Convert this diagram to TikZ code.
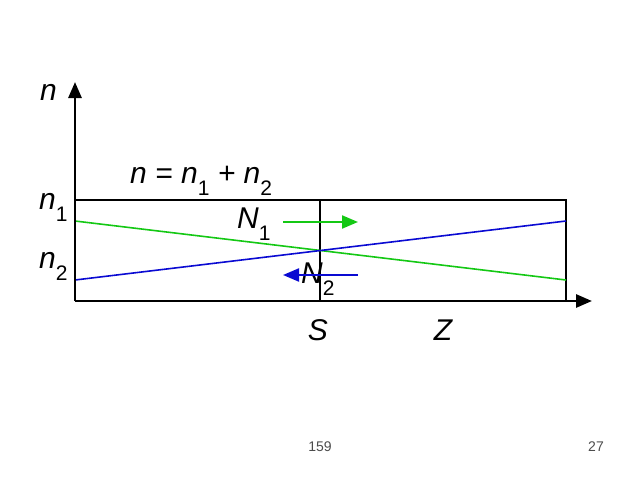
\documentclass[tikz,border=0pt]{standalone}
\usepackage{fontspec}
\setmainfont{Liberation Sans}
\usetikzlibrary{arrows.meta, positioning}
\definecolor{flowgreen}{RGB}{20,200,20}
\definecolor{flowblue}{RGB}{10,10,210}
\newcommand{\lowidx}[1]{\raisebox{-12pt}{\fontsize{21}{21}\selectfont\upshape #1}}

\begin{document}
\begin{tikzpicture}[x=1pt, y=-1pt,
        t/.style={font=\fontsize{30}{30}\selectfont\itshape, inner sep=0pt, anchor=base west},
        pg/.style={font=\fontsize{14}{14}\selectfont, text=black!70, inner sep=0pt},
        ax/.style={-{Triangle[length=16pt, width=13pt]}, line width=2.8pt},
        e/.style={-{Triangle[length=16pt, width=13pt]}, line width=2.2pt}]
        \useasboundingbox (0,0) rectangle (640,480);

        \coordinate (O) at (75,301);
        \coordinate (ytip) at (75,82);
        \coordinate (xtip) at (592,301);
        \coordinate (TL) at (75,200);
        \coordinate (TR) at (566,200);
        \coordinate (BR) at (566,301);
        \coordinate (St) at (320,200);
        \coordinate (Sb) at (320,301);

        % concentration profiles
        \coordinate (g0) at (75,221);
        \coordinate (g1) at (566,280);
        \coordinate (b0) at (75,280);
        \coordinate (b1) at (566,221);

        \draw[line width=1.8pt] (TL) -- (TR) -- (BR);
        \draw[line width=1.5pt] (St) -- (Sb);
        \draw[flowgreen, line width=1.6pt] (g0) -- (g1);
        \draw[flowblue, line width=1.6pt] (b0) -- (b1);

        \draw[ax] (O) -- (ytip);
        \draw[ax] (O) -- (xtip);

        \draw node[t] (ny) at (40,100) {n}
              node[t] (nsum) at (130,183) {n = n\lowidx{1} + n\lowidx{2}}
              node[t] (n1) at (39,209) {n\lowidx{1}}
              node[t] (n2) at (39,268) {n\lowidx{2}}
              node[t] (N1) at (237,228) {N\lowidx{1}}
              node[t] (N2) at (301,283) {N\lowidx{2}}
              node[t, anchor=base] (S) at (318,340) {S}
              node[t, anchor=base] (Z) at (443,340) {Z};

        % fluxes
        \coordinate (a1s) at (283,222);
        \coordinate (a1e) at (358,222);
        \coordinate (a2s) at (358,275);
        \coordinate (a2e) at (283,275);
        \draw[e, flowgreen] (a1s) -- (a1e);
        \draw[e, flowblue] (a2s) -- (a2e);

        \draw node[pg] (p1) at (320,447) {159}
              node[pg] (p2) at (596,447) {27};
      \end{tikzpicture}
\end{document}
